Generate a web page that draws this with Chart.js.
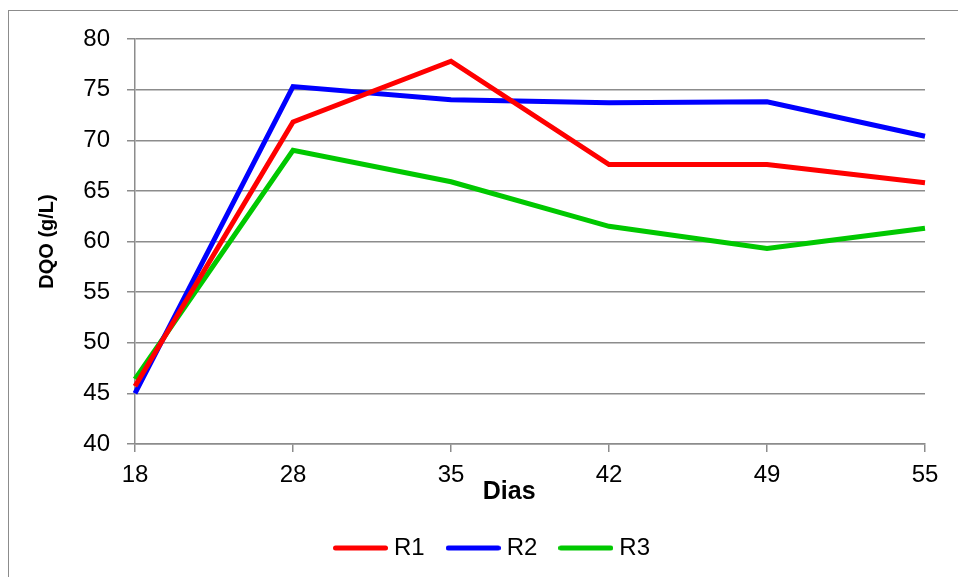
<!DOCTYPE html>
<html>
<head>
<meta charset="utf-8">
<script src="https://cdn.jsdelivr.net/npm/chart.js@4/dist/chart.umd.min.js"></script>
<style>
  html, body { margin: 0; padding: 0; background: #fff; overflow: hidden; }
  #frame { position: absolute; left: 8px; top: 10px; width: 2000px; height: 2000px;
           border: 1px solid #8c8c8c; box-sizing: border-box; }
  #wrap { position: absolute; left: 0; top: 0; width: 958px; height: 577px; }
</style>
</head>
<body>
<div id="frame"></div>
<div id="wrap"><canvas id="c" width="958" height="577"></canvas></div>
<script>
// Sampling days
const dias = ['18', '28', '35', '42', '49', '55'];

// DQO (g/L) per reactor
const r1 = [45.7, 71.8, 77.8, 67.6, 67.6, 65.8];
const r2 = [45.0, 75.3, 74.0, 73.7, 73.8, 70.4];
const r3 = [46.4, 69.0, 65.9, 61.5, 59.3, 61.3];

const seriesNames = ['R1', 'R2', 'R3'];
const seriesColors = ['#ff0000', '#0000ff', '#00c800'];

const gridGray = '#8c8c8c';
const fontFamily = '"Liberation Sans", Arial, sans-serif';

// Short round-capped stroke used as the legend key
function legendStroke(color) {
  const cv = document.createElement('canvas');
  cv.width = 55;
  cv.height = 6;
  const g = cv.getContext('2d');
  g.strokeStyle = color;
  g.lineWidth = 5;
  g.lineCap = 'round';
  g.beginPath();
  g.moveTo(2.5, 3);
  g.lineTo(52.5, 3);
  g.stroke();
  return cv;
}

const makeSet = (label, data, color) => ({
  label, data,
  borderColor: color,
  backgroundColor: color,
  borderWidth: 5,
  pointRadius: 0,
  pointHoverRadius: 0,
  tension: 0,
  fill: false
});

// Nudge the legend row to the right of the default centre
const legendShift = {
  id: 'legendShift',
  afterLayout(chart) {
    if (chart.legend) {
      chart.legend.left += 32;
      chart.legend.right += 32;
    }
  }
};

new Chart(document.getElementById('c'), {
  type: 'line',
  data: {
    labels: dias,
    datasets: [
      makeSet(seriesNames[0], r1, seriesColors[0]),
      makeSet(seriesNames[1], r2, seriesColors[1]),
      makeSet(seriesNames[2], r3, seriesColors[2])
    ]
  },
  plugins: [legendShift],
  options: {
    responsive: false,
    animation: false,
    layout: { padding: { left: 0, right: 33, top: 39, bottom: 7 } },
    plugins: {
      tooltip: { enabled: false },
      legend: {
        position: 'bottom',
        labels: {
          color: '#000',
          font: { family: fontFamily, size: 24 },
          usePointStyle: true,
          pointStyleWidth: 43,
          padding: 27,
          generateLabels: (chart) => chart.data.datasets.map((ds, i) => ({
            text: ds.label,
            fillStyle: ds.borderColor,
            strokeStyle: ds.borderColor,
            lineWidth: 0,
            pointStyle: legendStroke(ds.borderColor),
            hidden: false,
            datasetIndex: i
          }))
        }
      }
    },
    scales: {
      x: {
        type: 'category',
        offset: false,
        grid: {
          display: true,
          drawOnChartArea: false,
          drawTicks: true,
          tickLength: 8,
          color: gridGray,
          lineWidth: 1.5
        },
        border: { display: true, color: gridGray, width: 1.5 },
        ticks: {
          color: '#000',
          font: { family: fontFamily, size: 24 },
          padding: 9,
          maxRotation: 0,
          autoSkip: false
        },
        title: {
          display: true,
          text: 'Dias\u00a0\u00a0\u00a0\u00a0\u00a0\u00a0',
          color: '#000',
          font: { family: fontFamily, size: 25, weight: 'bold' },
          padding: { top: 0, bottom: 2 }
        },
        afterFit: (scale) => { scale.height = 65; }
      },
      y: {
        min: 40,
        max: 80,
        grid: {
          color: gridGray,
          lineWidth: 1.5,
          drawTicks: true,
          tickLength: 8
        },
        border: { display: true, color: gridGray, width: 1.5 },
        ticks: {
          stepSize: 5,
          color: '#000',
          font: { family: fontFamily, size: 24 },
          padding: 17
        },
        title: {
          display: true,
          text: 'DQO (g/L)',
          color: '#000',
          font: { family: fontFamily, size: 20, weight: 'bold' },
          padding: { top: 35, bottom: 0 }
        },
        afterFit: (scale) => { scale.width = 135; }
      }
    }
  }
});
</script>
</body>
</html>
